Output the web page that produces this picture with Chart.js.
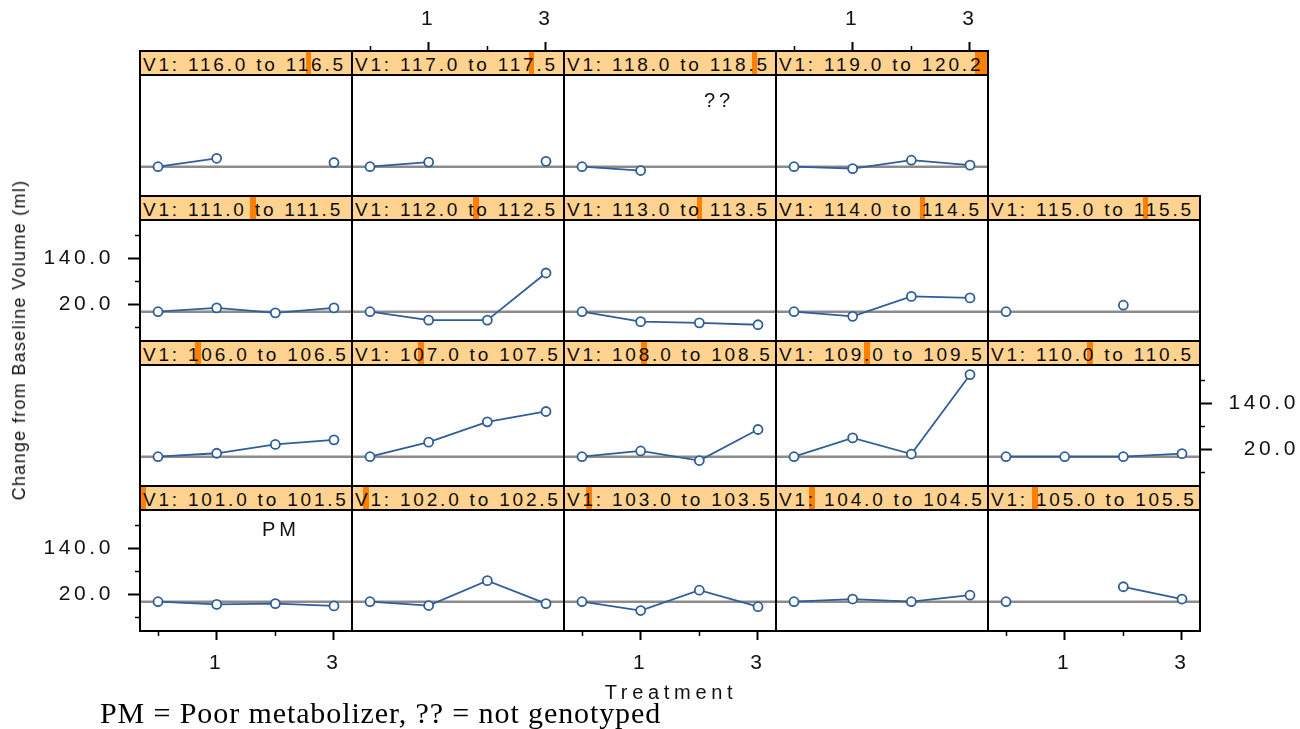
<!DOCTYPE html>
<html><head><meta charset="utf-8">
<script src="https://cdn.jsdelivr.net/npm/chart.js@4.4.1/dist/chart.umd.min.js"></script>
<style>
html,body{margin:0;padding:0;background:#fff;width:1300px;height:729px;overflow:hidden;}
#stage{position:relative;width:1300px;height:729px;overflow:hidden;}
canvas{position:absolute;}
.strip{position:absolute;background:#FFD28F;overflow:hidden;}
.strip .bar{position:absolute;top:0;height:100%;background:#FF7F00;}
.strip .txt{position:absolute;left:3px;top:2px;line-height:24px;font-family:'Liberation Sans',Arial,sans-serif;font-size:19px;letter-spacing:2.8px;color:#0d0d0d;white-space:nowrap;}
.frame{position:absolute;border:2px solid #000;box-sizing:border-box;pointer-events:none;z-index:5;}
.hline{position:absolute;background:#000;height:2px;z-index:5;}
.lbl{position:absolute;white-space:nowrap;color:#111;z-index:6;}
</style></head><body><div id="stage"></div>
<script>
// ---------------- data ----------------
const treatments = [0, 1, 2, 3];
const panelLow  = [101.0, 102.0, 103.0, 104.0, 105.0, 106.0, 107.0, 108.0, 109.0, 110.0,
                   111.0, 112.0, 113.0, 114.0, 115.0, 116.0, 117.0, 118.0, 119.0];
const panelHigh = [101.5, 102.5, 103.5, 104.5, 105.5, 106.5, 107.5, 108.5, 109.5, 110.5,
                   111.5, 112.5, 113.5, 114.5, 115.5, 116.5, 117.5, 118.5, 120.2];
const s101 = [0, -7, -5, -11];
const s102 = [0, -10, 55, -5];
const s103 = [0, -23, 30, -13];
const s104 = [0, 7, 0, 17];
const s105 = [0, null, 39, 7];
const s106 = [0, 9, 32, 44];
const s107 = [0, 38, 91, 118];
const s108 = [0, 15, -10, 71];
const s109 = [0, 49, 7, 214];
const s110 = [0, 0, 0, 8];
const s111 = [0, 10, -3, 10];
const s112 = [0, -22, -22, 101];
const s113 = [0, -26, -29, -34];
const s114 = [0, -12, 40, 36];
const s115 = [0, null, 17, null];
const s116 = [0, 22, null, 11];
const s117 = [0, 12, null, 14];
const s118 = [0, -10, null, null];
const s119 = [0, -5, 17, 4];
const seriesByPanel = [s101, s102, s103, s104, s105, s106, s107, s108, s109, s110,
                       s111, s112, s113, s114, s115, s116, s117, s118, s119];
const refValue = 0;
const yTickValues = [-40, 20, 80, 140, 200];
const yTickLabels = ['', '20.0', '', '140.0', ''];
const xTickValues = [0, 1, 2, 3];
const xTickLabels = ['', '1', '', '3'];
const noteLabels = ['PM', '??'];
const yTitle = 'Change from Baseline Volume (ml)';
const xTitle = 'Treatment';
const footnote = 'PM = Poor metabolizer, ?? = not genotyped';

// ---------------- layout ----------------
const FONT = "'Liberation Sans', Arial, sans-serif";
const G = {x0: 140, pw: 212, rowTop0: 486, rh: 145, stripH: 24, L: 140, R: 99, T: 51, B: 60};
const X_MIN = -0.307, X_MAX = 3.307, Y_MIN = -76.4, Y_MAX = 301.9;
const LINE = '#2F5E98';
const stage = document.getElementById('stage');
const shMin = Math.min(...panelLow), shMax = Math.max(...panelHigh);
const nPanels = seriesByPanel.length;

function topRowOfCol(col) {
  let r = 0;
  for (let i = 0; i < nPanels; i++) if (i % 5 === col) r = Math.max(r, Math.floor(i / 5));
  return r;
}
const tickFont = {family: FONT, size: 21};
const spacingPlugin = {id: 'ls', beforeDraw(chart) { chart.ctx.letterSpacing = '3.6px'; }};

function makeX(pos, show) {
  return {
    type: 'linear', position: pos, min: X_MIN, max: X_MAX, bounds: 'data',
    afterBuildTicks: s => { s.ticks = xTickValues.map(v => ({value: v})); },
    afterFit: s => { s.height = pos === 'top' ? G.T : G.B; },
    border: {display: false},
    grid: {display: show, drawOnChartArea: false, drawTicks: true, tickLength: 9, tickColor: '#000',
      tickWidth: c => xTickLabels[c.index] ? 2 : 1.5,
      tickBorderDash: c => xTickLabels[c.index] ? [] : (pos === 'top' ? [0, 4, 5, 30] : [5, 30])},
    ticks: {display: show, autoSkip: false, maxRotation: 0, minRotation: 0, padding: pos === 'top' ? 10 : 11,
      color: '#111', font: tickFont, callback: (v, i) => xTickLabels[i]}
  };
}
function makeY(pos, show) {
  return {
    type: 'linear', position: pos, min: Y_MIN, max: Y_MAX, bounds: 'data',
    afterBuildTicks: s => { s.ticks = yTickValues.map(v => ({value: v})); },
    afterFit: s => { s.width = pos === 'left' ? G.L : G.R; },
    border: {display: false},
    grid: {display: show, drawOnChartArea: false, drawTicks: true, tickLength: 12, tickColor: '#000',
      tickWidth: c => yTickLabels[c.index] ? 2 : 1.5,
      tickBorderDash: c => yTickLabels[c.index] ? [] : (pos === 'left' ? [0, 7, 5, 30] : [5, 30])},
    ticks: {display: show, autoSkip: false, padding: 14, crossAlign: pos === 'left' ? 'near' : 'far',
      color: '#111', font: tickFont, callback: (v, i) => yTickLabels[i]}
  };
}

for (let i = 0; i < nPanels; i++) {
  const col = i % 5, row = Math.floor(i / 5);
  const left = G.x0 + col * G.pw;
  const stripTop = G.rowTop0 - row * G.rh;
  const showLeft = col === 0 && row % 2 === 0;
  const showRight = row % 2 === 1 && col === 4;
  const showBottom = row === 0 && col % 2 === 0;
  const showTop = col % 2 === 1 && row === topRowOfCol(col);

  // strip
  const strip = document.createElement('div');
  strip.className = 'strip';
  Object.assign(strip.style, {left: left + 'px', top: stripTop + 'px', width: G.pw + 'px', height: G.stripH + 'px'});
  const bar = document.createElement('div');
  bar.className = 'bar';
  const b0 = (panelLow[i] - shMin) / (shMax - shMin) * G.pw;
  const b1 = (panelHigh[i] - shMin) / (shMax - shMin) * G.pw;
  Object.assign(bar.style, {left: b0 + 'px', width: (b1 - b0) + 'px'});
  strip.appendChild(bar);
  const txt = document.createElement('div');
  txt.className = 'txt';
  txt.textContent = 'V1: ' + panelLow[i].toFixed(1) + ' to ' + panelHigh[i].toFixed(1);
  strip.appendChild(txt);
  stage.appendChild(strip);

  // chart
  const cv = document.createElement('canvas');
  cv.width = G.pw + G.L + G.R;
  cv.height = G.rh + G.T + G.B;
  cv.style.left = (left - G.L) + 'px';
  cv.style.top = (stripTop - G.T) + 'px';
  cv.style.zIndex = 2;
  stage.appendChild(cv);
  const series = seriesByPanel[i];
  new Chart(cv, {
    type: 'line',
    data: {datasets: [
      {data: treatments.map((t, k) => ({x: t, y: series[k]})), borderColor: LINE, borderWidth: 1.8,
       pointRadius: 4.5, pointBorderWidth: 1.8, pointBackgroundColor: '#fff', pointBorderColor: LINE,
       spanGaps: false, tension: 0, order: 0, clip: false},
      {data: [{x: X_MIN, y: refValue}, {x: X_MAX, y: refValue}], borderColor: '#8C8C8C', borderWidth: 2.5,
       pointRadius: 0, order: 1}
    ]},
    options: {
      responsive: false, animation: false, events: [],
      layout: {padding: 0, autoPadding: false},
      plugins: {legend: {display: false}, tooltip: {enabled: false}},
      scales: {
        x: makeX('bottom', showBottom),
        x2: makeX('top', showTop),
        y: makeY('left', showLeft),
        y2: makeY('right', showRight)
      }
    },
    plugins: [spacingPlugin]
  });

  // frame
  const fr = document.createElement('div');
  fr.className = 'frame';
  Object.assign(fr.style, {left: (left - 1) + 'px', top: (stripTop - 1) + 'px', width: (G.pw + 2) + 'px', height: (G.rh + 2) + 'px'});
  stage.appendChild(fr);
  const hl = document.createElement('div');
  hl.className = 'hline';
  Object.assign(hl.style, {left: left + 'px', top: (stripTop + G.stripH - 1) + 'px', width: G.pw + 'px'});
  stage.appendChild(hl);
}

function addLabel(text, css) {
  const d = document.createElement('div');
  d.className = 'lbl';
  d.textContent = text;
  Object.assign(d.style, css);
  stage.appendChild(d);
  return d;
}
addLabel(noteLabels[0], {left: '281px', top: '529px', transform: 'translate(-50%,-50%)', font: "20px " + FONT, letterSpacing: '4px', lineHeight: '20px'});
addLabel(noteLabels[1], {left: '719px', top: '100px', transform: 'translate(-50%,-50%)', font: "20px " + FONT, letterSpacing: '4px', lineHeight: '20px'});
addLabel(yTitle, {left: '19px', top: '340px', transform: 'translate(-50%,-50%) rotate(-90deg)', font: "18px " + FONT, letterSpacing: '1.3px', lineHeight: '18px'});
addLabel(xTitle, {left: '671px', top: '692px', transform: 'translate(-50%,-50%)', font: "20px " + FONT, letterSpacing: '4.7px', lineHeight: '20px'});
addLabel(footnote, {left: '100px', top: '698px', font: "30px 'Liberation Serif', 'Times New Roman', serif", letterSpacing: '0.9px', lineHeight: '30px', color: '#000'});
</script></body></html>
